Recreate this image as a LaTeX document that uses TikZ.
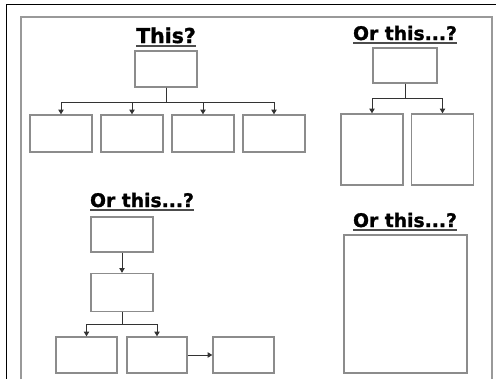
\documentclass[tikz,border=0pt]{standalone}
\usepackage{fontspec}
\setmainfont{DejaVu Sans}[BoldFeatures={FakeBold=1.3}]
\usetikzlibrary{arrows.meta}
\newcommand\ulhead[1]{\setbox0\hbox{#1}\rlap{\color{black!70}\rule[-3.4pt]{\wd0}{1.5pt}}\box0}

\begin{document}
\begin{tikzpicture}[x=0.03cm, y=-0.03cm,
    box/.style={draw=black!45, line width=1.1pt, inner sep=0pt},
    wh/.style 2 args={minimum width=#1*0.03cm, minimum height=#2*0.03cm},
    heading/.style={font=\bfseries\fontsize{16}{18}\selectfont, anchor=base, inner sep=0pt},
    link/.style={draw=black!80, line width=0.8pt, -{Triangle[length=4pt, width=4.5pt]}}]
  \useasboundingbox (0,0) rectangle (496,379);
  % frames
  \draw[black, line width=1.6pt] (496,4.5) -- (6.5,4.5) -- (6.5,379);
  \draw[black!40, line width=1.6pt] (21,379) -- (21,17) -- (492,17) -- (492,379);
  % one parent, four children
  \node[heading, font=\bfseries\fontsize{17.5}{19}\selectfont] (this) at (166,43) {\ulhead{This?}};
  \node[box, wh={62}{36}] (top) at (166,69) {};
  \coordinate (fork) at (166,102);
  \foreach \i/\x in {1/61, 2/132, 3/203, 4/274} {
    \node[box, wh={62}{37}] (kid\i) at (\x,133.5) {};
    \draw[link] (top.south) -- (fork) -| (kid\i.north);
  }
  % one parent, two tall children
  \node[heading] (orone) at (405,40) {\ulhead{Or this...?}};
  \node[box, wh={64}{35}] (head) at (405,65.5) {};
  \coordinate (split) at (405,98);
  \foreach \i/\x in {1/372, 2/442.5} {
    \node[box, wh={62}{71}] (tall\i) at (\x,149.5) {};
    \draw[link] (head.south) -- (split) -| (tall\i.north);
  }
  % chain
  \node[heading] (ortwo) at (142,207) {\ulhead{Or this...?}};
  \node[box, wh={62}{35}] (stepa) at (122,234.5) {};
  \node[box, wh={62}{38}] (stepb) at (122,292.5) {};
  \draw[link] (stepa) -- (stepb);
  \coordinate (branch) at (122,324);
  \node[box, wh={61}{36}] (leafa) at (86.5,355) {};
  \node[box, wh={60}{36}] (leafb) at (157,355) {};
  \node[box, wh={61}{36}] (leafc) at (243.5,355) {};
  \foreach \n in {leafa, leafb} \draw[link] (stepb.south) -- (branch) -| (\n.north);
  \draw[link] (leafb) -- (leafc);
  % single page
  \node[heading] (orthree) at (405,227) {\ulhead{Or this...?}};
  \node[box, wh={123}{138}] (page) at (405.5,304) {};
\end{tikzpicture}
\end{document}
